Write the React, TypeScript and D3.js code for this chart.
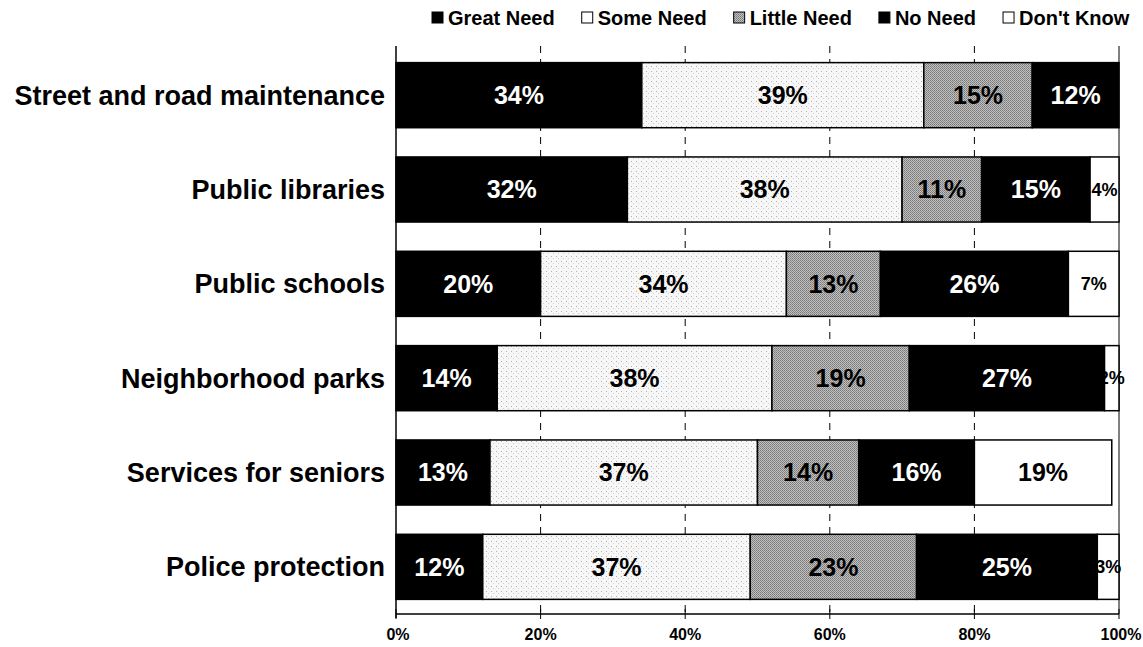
import React, { useRef, useEffect } from "react";
import * as d3 from "d3";

const categories = [
  "Street and road maintenance",
  "Public libraries",
  "Public schools",
  "Neighborhood parks",
  "Services for seniors",
  "Police protection",
];
const seriesNames = ["Great Need", "Some Need", "Little Need", "No Need", "Don't Know"];
const greatNeed = [34, 32, 20, 14, 13, 12];
const someNeed = [39, 38, 34, 38, 37, 37];
const littleNeed = [15, 11, 13, 19, 14, 23];
const noNeed = [12, 15, 26, 27, 16, 25];
const dontKnow = [0, 4, 7, 2, 19, 3];
const ticks = [0, 20, 40, 60, 80, 100];

const fills = ["#000", "url(#someNeed)", "url(#littleNeed)", "#000", "#fff"];
const textColors = ["#fff", "#000", "#000", "#fff", "#000"];

const W = 1143;
const H = 647;

const App: React.FC = () => {
  const svgRef = useRef<SVGSVGElement | null>(null);

  useEffect(() => {
    if (!svgRef.current) return;
    const svg = d3.select(svgRef.current);
    svg.selectAll("*").remove();
    const font = "'Liberation Sans', Arial, sans-serif";

    // fill textures
    const defs = svg.append("defs");
    const p1 = defs
      .append("pattern")
      .attr("id", "someNeed")
      .attr("width", 5)
      .attr("height", 5)
      .attr("patternUnits", "userSpaceOnUse");
    p1.append("rect").attr("width", 5).attr("height", 5).attr("fill", "#f7f7f7");
    p1.append("rect").attr("x", 1).attr("y", 1).attr("width", 1).attr("height", 1).attr("fill", "#b0b0b0");
    p1.append("rect").attr("x", 3).attr("y", 3).attr("width", 1).attr("height", 1).attr("fill", "#cfcfcf");

    const p2 = defs
      .append("pattern")
      .attr("id", "littleNeed")
      .attr("width", 2)
      .attr("height", 2)
      .attr("patternUnits", "userSpaceOnUse");
    p2.append("rect").attr("width", 2).attr("height", 2).attr("fill", "#c0c0c0");
    p2.append("rect").attr("width", 1).attr("height", 1).attr("fill", "#777");
    p2.append("rect").attr("x", 1).attr("y", 1).attr("width", 1).attr("height", 1).attr("fill", "#8a8a8a");

    const x = d3.scaleLinear().domain([0, 100]).range([396, 1119]);
    const y = d3
      .scaleBand()
      .domain(categories)
      .range([48, 614])
      .paddingInner(0.31)
      .paddingOuter(0.155);

    // gridlines
    svg
      .append("g")
      .selectAll("line")
      .data(ticks.slice(1, -1))
      .enter()
      .append("line")
      .attr("x1", (d) => x(d))
      .attr("x2", (d) => x(d))
      .attr("y1", 46)
      .attr("y2", 614)
      .attr("stroke", "#000")
      .attr("stroke-width", 1)
      .attr("stroke-dasharray", "7,6");

    svg
      .append("line")
      .attr("x1", x(100))
      .attr("x2", x(100))
      .attr("y1", 46)
      .attr("y2", 614)
      .attr("stroke", "#000")
      .attr("stroke-width", 1);

    const series = [greatNeed, someNeed, littleNeed, noNeed, dontKnow];
    const rows = categories.map((c, i) => {
      let acc = 0;
      return series.map((s, k) => {
        const seg = { cat: c, k, v: s[i], x0: acc, x1: acc + s[i] };
        acc += s[i];
        return seg;
      });
    });
    const segs = rows.flat().filter((d) => d.v > 0);

    svg
      .append("g")
      .selectAll("rect")
      .data(segs)
      .enter()
      .append("rect")
      .attr("x", (d) => x(d.x0))
      .attr("y", (d) => y(d.cat)!)
      .attr("width", (d) => x(d.x1) - x(d.x0))
      .attr("height", y.bandwidth())
      .attr("fill", (d) => fills[d.k])
      .attr("stroke", "#000")
      .attr("stroke-width", 1.5);

    svg
      .append("g")
      .selectAll("text")
      .data(segs)
      .enter()
      .append("text")
      .attr("x", (d) => (x(d.x0) + x(d.x1)) / 2)
      .attr("y", (d) => y(d.cat)! + y.bandwidth() / 2)
      .attr("dy", "0.35em")
      .attr("text-anchor", "middle")
      .attr("font-family", font)
      .attr("font-weight", "bold")
      .attr("font-size", (d) => (d.v < 10 ? 18 : 25))
      .attr("fill", (d) => textColors[d.k])
      .text((d) => d.v + "%");

    // category labels
    svg
      .append("g")
      .selectAll("text")
      .data(categories)
      .enter()
      .append("text")
      .attr("x", 385)
      .attr("y", (d) => y(d)! + y.bandwidth() / 2)
      .attr("dy", "0.35em")
      .attr("text-anchor", "end")
      .attr("font-family", font)
      .attr("font-weight", "bold")
      .attr("font-size", 27)
      .attr("fill", "#000")
      .text((d) => d);

    // axes
    svg
      .append("line")
      .attr("x1", x(0))
      .attr("x2", x(0))
      .attr("y1", 46)
      .attr("y2", 618)
      .attr("stroke", "#000")
      .attr("stroke-width", 1.5);
    svg
      .append("line")
      .attr("x1", x(0))
      .attr("x2", x(100))
      .attr("y1", 614)
      .attr("y2", 614)
      .attr("stroke", "#000")
      .attr("stroke-width", 1.5);

    const tg = svg.append("g");
    tg.selectAll("line")
      .data(ticks)
      .enter()
      .append("line")
      .attr("x1", (d) => x(d))
      .attr("x2", (d) => x(d))
      .attr("y1", 609)
      .attr("y2", 619)
      .attr("stroke", "#000");
    tg.selectAll("text")
      .data(ticks)
      .enter()
      .append("text")
      .attr("x", (d) => x(d) + (d === 0 ? 2 : d === 100 ? 2 : 0))
      .attr("y", 640)
      .attr("text-anchor", "middle")
      .attr("font-family", font)
      .attr("font-weight", "bold")
      .attr("font-size", 16)
      .text((d) => d + "%");

    // legend
    const legendFills = ["#000", "#fff", "url(#littleNeed)", "#000", "#fff"];
    const lg = svg.append("g");
    let lx = 432;
    seriesNames.forEach((name, k) => {
      lg.append("rect")
        .attr("x", lx)
        .attr("y", 12)
        .attr("width", 11)
        .attr("height", 11)
        .attr("fill", legendFills[k])
        .attr("stroke", "#000")
        .attr("stroke-width", 1);
      const t = lg
        .append("text")
        .attr("x", lx + 16)
        .attr("y", 25)
        .attr("font-family", font)
        .attr("font-weight", "bold")
        .attr("font-size", 20)
        .attr("fill", "#000")
        .text(name);
      const tw = (t.node() as SVGTextElement).getComputedTextLength();
      lx += 16 + tw + 27;
    });
  }, []);

  return <svg ref={svgRef} width={W} height={H} style={{ display: "block", position: "absolute", left: 0, top: 0, background: "#fff" }} />;
};

export default App;
